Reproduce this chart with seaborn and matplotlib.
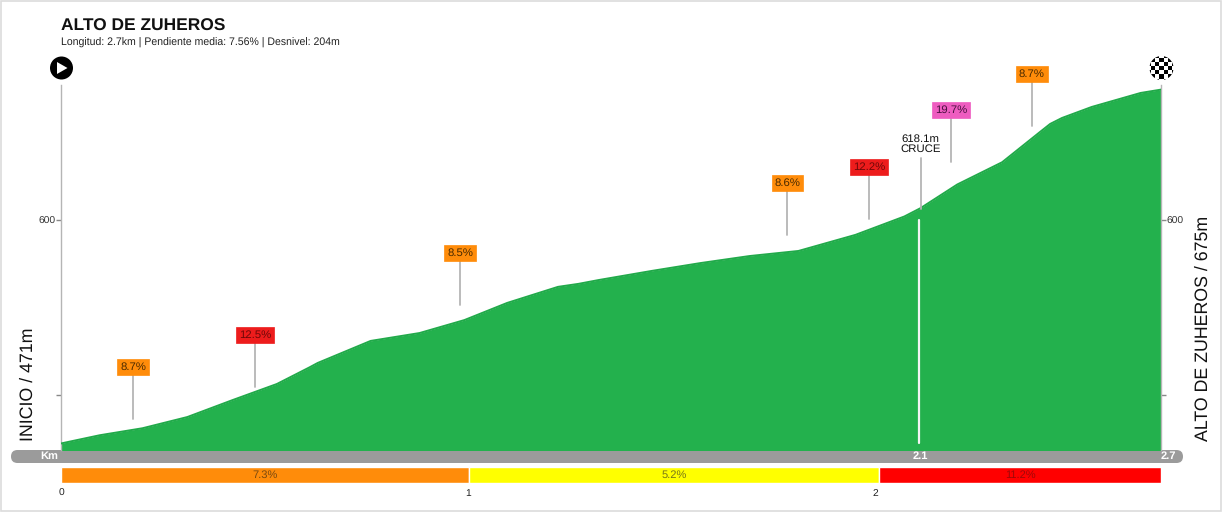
import matplotlib.pyplot as plt
import seaborn as sns
from matplotlib.patches import Circle, FancyBboxPatch, Polygon, Rectangle

# profile
km = [0, 0.095, 0.20, 0.31, 0.42, 0.53, 0.61, 0.63, 0.76, 0.88, 0.99, 1.095, 1.22, 1.27, 1.32,
      1.45, 1.57, 1.69, 1.81, 1.95, 2.07, 2.11, 2.20, 2.31, 2.403, 2.428, 2.457, 2.53, 2.65, 2.70]
elevation = [472.3, 477, 481, 487.4, 497, 506.3, 515.8, 518.3, 530.9, 535.4, 542.8, 552.6, 561.8,
             563.5, 565.7, 570.9, 575.4, 579.4, 582.3, 591.5, 602, 606.8, 620.3, 633, 650.3,
             654.9, 658.3, 664.6, 672.6, 674.5]

# steep section flags
flag_km = [0.177, 0.476, 0.98, 1.783, 1.983, 2.185, 2.383]
flag_base = [486.3, 504.6, 551.4, 591.4, 600.6, 633.1, 653.7]
flag_text = ['8.7%', '12.5%', '8.5%', '8.6%', '12.2%', '19.7%', '8.7%']
flag_color = ['#ff8c0a', '#ed1c1c', '#ff8c0a', '#ff8c0a', '#ed1c1c', '#ee5cc0', '#ff8c0a']
flag_ink = ['#4a2a00', '#6e0808', '#4a2a00', '#4a2a00', '#6e0808', '#4a1040', '#4a2a00']

# gradient strip
seg_start = [0, 1.0015, 2.008]
seg_end = [1.0015, 2.008, 2.70]
seg_text = ['7.3%', '5.2%', '11.2%']
seg_color = ['#ff8c0a', '#ffff00', '#ff0000']
seg_ink = ['#7a4a10', '#77771a', '#a00808']
km_ticks = [0, 1, 2]

W, H = 1222, 512
sns.set_theme(style='white')
plt.rcParams['font.family'] = ['Liberation Sans', 'DejaVu Sans']
plt.rcParams['text.hinting'] = 'no_hinting'

fig = plt.figure(figsize=(W / 100, H / 100), dpi=100)


def px_axes(left, top, right, bottom, **kw):
    return fig.add_axes([left / W, 1 - bottom / H, (right - left) / W, (bottom - top) / H], **kw)


# background layer in plain pixels
bg = px_axes(0, 0, W, H)
bg.set_xlim(0, W)
bg.set_ylim(H, 0)
bg.axis('off')
bg.add_patch(Rectangle((0.5, 0.5), W - 1.5, H - 2, fill=False, ec='#dcdcdc', lw=1.2))
bg.add_patch(FancyBboxPatch((11, 450), 1172, 13, boxstyle='round,pad=0,rounding_size=6.5',
                            fc='#9b9b9b', ec='none'))
bg.text(49, 456.5, 'Km', color='white', fontsize=8, fontweight='bold', ha='center', va='center')
bg.text(920, 456.5, '2.1', color='white', fontsize=8, fontweight='bold', ha='center', va='center')
bg.text(1168, 456.5, '2.7', color='white', fontsize=8, fontweight='bold', ha='center', va='center')

bg.text(61, 26, 'ALTO DE ZUHEROS', fontsize=12.5, fontweight='bold', color='#111111', va='center')
bg.text(61, 42.5, 'Longitud: 2.7km | Pendiente media: 7.56% | Desnivel: 204m', fontsize=7.6,
        color='#222222', va='center')
bg.text(28, 441, 'INICIO / 471m', fontsize=12.8, rotation=90, ha='center', va='bottom', color='#111111')
bg.text(1203, 441, 'ALTO DE ZUHEROS / 675m', fontsize=12.8, rotation=90, ha='center', va='bottom',
        color='#111111')

# start icon
bg.add_patch(Circle((61.5, 68), 11.5, fc='black', ec='none'))
bg.add_patch(Polygon([(57, 62), (57, 74), (67.5, 68)], fc='white', ec='none'))

# finish icon
clip = Circle((1161.5, 68), 12, transform=bg.transData)
for i in range(-3, 4):
    for j in range(-3, 4):
        c = 'black' if (i + j) % 2 == 0 else 'white'
        sq = Rectangle((1161.5 + (i - 0.5) * 4.2, 68 + (j - 0.5) * 4.2), 4.2, 4.2, fc=c, ec='none')
        bg.add_patch(sq)
        sq.set_clip_path(clip)

# main profile
ax = px_axes(61, 85, 1161, 450)
ax.patch.set_alpha(0)
ax.fill_between(km, elevation, 460, color='#23b14d', lw=0, zorder=2)
sns.lineplot(x=km, y=elevation, color='#21aa4a', lw=1.4, ax=ax, zorder=3, estimator=None, sort=False)
ax.set_xlim(0, 2.7)
ax.set_ylim(468.57, 677.14)
ax.set_xticks([])
ax.set_yticks([500, 600])
ax.set_yticklabels(['', '600'], fontsize=7.4, color='#333333')
ax.tick_params(axis='y', length=3.5, width=1, color='#888888', left=True, right=True,
               labelleft=True, labelright=True, pad=0.5)
for side in ['top', 'bottom']:
    ax.spines[side].set_visible(False)
for side in ['left', 'right']:
    ax.spines[side].set_color('#b5b5b5')
    ax.spines[side].set_linewidth(1)
ax.set_xlabel('')
ax.set_ylabel('')

for x, base, label, c, ink in zip(flag_km, flag_base, flag_text, flag_color, flag_ink):
    ax.plot([x, x], [base, base + 29.7], color='#b5b5b5', lw=1.3, zorder=4, clip_on=False)
    ax.text(x, base + 29.7, label, fontsize=8.2, color=ink, ha='center', va='center', zorder=5,
            bbox=dict(boxstyle='square,pad=0.25', fc=c, ec=c, lw=0.5))

# crossing marker
ax.plot([2.11, 2.11], [606, 635.5], color='#b5b5b5', lw=1.3, zorder=4)
ax.plot([2.106, 2.106], [600, 472.5], color='#f4f4f4', lw=1.6, zorder=4)
ax.text(2.11, 643.5, '618.1m\nCRUCE', fontsize=8.2, color='#111111', ha='center', va='center',
        linespacing=0.95)

# gradient strip
strip = px_axes(61, 467, 1161, 483)
strip.patch.set_alpha(0)
strip.barh(0, [e - s for s, e in zip(seg_start, seg_end)], left=seg_start, height=1, color=seg_color)
for s, e, label, ink in zip(seg_start, seg_end, seg_text, seg_ink):
    strip.text((s + e) / 2, 0, label, fontsize=8, color=ink, ha='center', va='center')
strip.set_xlim(0, 2.7)
strip.set_ylim(-0.5, 0.5)
strip.set_yticks([])
strip.set_xticks(km_ticks)
strip.set_xticklabels(['0', '1', '2'], fontsize=7.4, color='#222222')
strip.tick_params(axis='x', length=0, pad=4)
sns.despine(ax=strip, left=True, bottom=True)

fig.savefig('out.png', dpi=100, facecolor='white')
